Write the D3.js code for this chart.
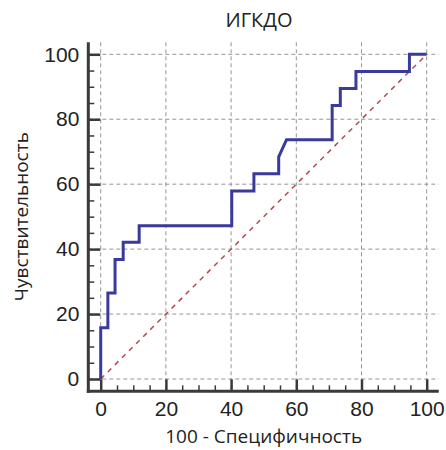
<!DOCTYPE html>
<html>
<head>
<meta charset="utf-8">
<script src="https://cdn.jsdelivr.net/npm/d3@7"></script>
<style>
  html, body { margin: 0; padding: 0; background: #fff; }
  svg { display: block; font-family: "Open Sans", "Noto Sans", sans-serif; }
</style>
</head>
<body>
<svg id="chart" width="446" height="450"></svg>
<script>
// ROC curve: 100 - specificity (x) versus sensitivity (y), in percent
const rocX = [0, 0, 2.2, 2.2, 4.4, 4.4, 6.9, 6.9, 11.8, 11.8, 40.2, 40.2, 47.0, 47.0,
              54.6, 54.6, 57.0, 71.0, 71.0, 73.5, 73.5, 78.3, 78.3, 94.7, 94.7, 100];
const rocY = [0, 15.8, 15.8, 26.5, 26.5, 36.8, 36.8, 42.1, 42.1, 47.2, 47.2, 57.9, 57.9, 63.2,
              63.2, 68.4, 73.7, 73.7, 84.2, 84.2, 89.5, 89.5, 94.7, 94.7, 100, 100];
// Reference line of a non-informative test
const chanceX = [0, 100];
const chanceY = [0, 100];

const majorTicks = [0, 20, 40, 60, 80, 100];
const minorTicks = d3.range(0, 101, 5).filter(v => v % 20 !== 0);
const axisExtent = [-3.8, 103.7];

const title = "ИГКДО";
const xTitle = "100 - Специфичность";
const yTitle = "Чувствительность";

const svg = d3.select("#chart");

const x = d3.scaleLinear().domain([0, 100]).range([100.7, 426.7]);
const y = d3.scaleLinear().domain([0, 100]).range([379, 54.3]);

const x0 = x(axisExtent[0]), x1 = x(axisExtent[1]);
const y0 = y(axisExtent[0]), y1 = y(axisExtent[1]);

// dashed grid
const grid = svg.append("g")
  .attr("stroke", "#959595")
  .attr("stroke-width", 1)
  .attr("stroke-dasharray", "4,3");
grid.selectAll("line.v").data(majorTicks).join("line")
  .attr("class", "v")
  .attr("x1", d => x(d)).attr("x2", d => x(d))
  .attr("y1", y1).attr("y2", y0);
grid.selectAll("line.h").data(majorTicks).join("line")
  .attr("class", "h")
  .attr("x1", x0).attr("x2", x1)
  .attr("y1", d => y(d)).attr("y2", d => y(d));

// diagonal
svg.append("path")
  .datum(chanceX.map((v, i) => [v, chanceY[i]]))
  .attr("fill", "none")
  .attr("stroke", "#b24a55")
  .attr("stroke-width", 1.5)
  .attr("stroke-dasharray", "5,5")
  .attr("d", d3.line().x(d => x(d[0])).y(d => y(d[1])));

// ROC curve
svg.append("path")
  .datum(rocX.map((v, i) => [v, rocY[i]]))
  .attr("fill", "none")
  .attr("stroke", "#3a3a9c")
  .attr("stroke-width", 3)
  .attr("stroke-linejoin", "miter")
  .attr("d", d3.line().x(d => x(d[0])).y(d => y(d[1])));

// axes: ticks point into the plot
const axisColor = "#3a3a3a";

function styleAxis(g, width) {
  g.select(".domain").remove();
  g.selectAll(".tick line").attr("stroke", axisColor).attr("stroke-width", width);
  g.selectAll(".tick text").attr("fill", "#222").style("font-size", "21px");
}

svg.append("g")
  .attr("transform", `translate(0,${y0})`)
  .call(d3.axisBottom(x).tickValues(minorTicks).tickSizeInner(-6).tickSizeOuter(0).tickFormat(""))
  .call(g => styleAxis(g, 1.5));
svg.append("g")
  .attr("transform", `translate(0,${y0})`)
  .call(d3.axisBottom(x).tickValues(majorTicks).tickSizeInner(-12).tickSizeOuter(0).tickPadding(7))
  .call(g => styleAxis(g, 2.5))
  .call(g => g.selectAll(".tick text").attr("dy", "0.85em"));

svg.append("g")
  .attr("transform", `translate(${x0},0)`)
  .call(d3.axisLeft(y).tickValues(minorTicks).tickSizeInner(-6).tickSizeOuter(0).tickFormat(""))
  .call(g => styleAxis(g, 1.5));
svg.append("g")
  .attr("transform", `translate(${x0},0)`)
  .call(d3.axisLeft(y).tickValues(majorTicks).tickSizeInner(-12).tickSizeOuter(0).tickPadding(9))
  .call(g => styleAxis(g, 2.5));

// axis lines
svg.append("line")
  .attr("x1", x0).attr("x2", x0).attr("y1", y1).attr("y2", y0 + 1.5)
  .attr("stroke", axisColor).attr("stroke-width", 3);
svg.append("line")
  .attr("x1", x0 - 1.5).attr("x2", x1).attr("y1", y0).attr("y2", y0)
  .attr("stroke", axisColor).attr("stroke-width", 3);

// titles
svg.append("text")
  .attr("x", 259).attr("y", 27)
  .attr("text-anchor", "middle")
  .attr("fill", "#222")
  .style("font-size", "20px")
  .text(title);

svg.append("text")
  .attr("x", (x(0) + x(100)) / 2).attr("y", 443)
  .attr("text-anchor", "middle")
  .attr("fill", "#222")
  .style("font-size", "19px")
  .text(xTitle);

svg.append("text")
  .attr("transform", `translate(28,${(y(0) + y(100)) / 2}) rotate(-90)`)
  .attr("text-anchor", "middle")
  .attr("fill", "#222")
  .style("font-size", "19px")
  .text(yTitle);
</script>
</body>
</html>
